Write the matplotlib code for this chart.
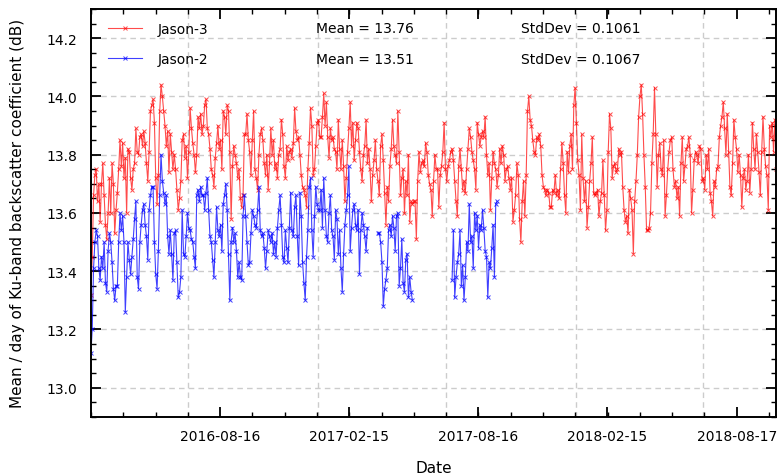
import numpy as np
import pandas as pd
import matplotlib
matplotlib.use("Agg")
import matplotlib.pyplot as plt
import matplotlib.dates as mdates

# daily mean Ku-band sigma0 (sampled roughly every other day)
start_date = "2016-02-15"
end_date = "2018-10-12"

jason3 = [
    13.32, 13.45, 13.66, 13.73, 13.75, 13.64, 13.70, 13.57, 13.70, 13.77,
    13.66, 13.56, 13.51, 13.60, 13.72, 13.60, 13.77, 13.70, 13.53, 13.61,
    13.67, 13.75, 13.85, 13.76, 13.84, 13.72, 13.79, 13.60, 13.82, 13.81,
    13.72, 13.68, 13.75, 13.77, 13.89, 13.81, 13.80, 13.86, 13.87, 13.83,
    13.88, 13.84, 13.77, 13.71, 13.81, 13.95, 13.97, 13.99, 13.91, 13.72,
    13.63, 13.73, 13.95, 14.04, 14.00, 13.95, 13.90, 13.83, 13.88, 13.74,
    13.87, 13.81, 13.75, 13.80, 13.75, 13.68, 13.61, 13.65, 13.71, 13.85,
    13.87, 13.79, 13.83, 13.72, 13.81, 13.96, 13.89, 13.84, 13.80, 13.74,
    13.80, 13.93, 13.89, 13.94, 13.87, 13.90,
    13.97, 13.99, 13.89, 13.87, 13.82, 13.75, 13.73, 13.69, 13.79, 13.84,
    13.90, 13.82, 13.85, 13.75, 13.95, 13.93, 13.87, 13.97, 13.95, 13.81,
    13.58, 13.76, 13.83, 13.80, 13.77, 13.72, 13.75, 13.65, 13.62, 13.66,
    13.87, 13.87, 13.94, 13.85, 13.81, 13.73, 13.85, 13.95, 13.75, 13.72,
    13.68, 13.80, 13.87, 13.89, 13.85, 13.77, 13.73, 13.80, 13.68, 13.77,
    13.89, 13.80, 13.85, 13.75, 13.77, 13.72, 13.80, 13.82, 13.92, 13.87,
    13.76, 13.72, 13.83, 13.78, 13.81, 13.82, 13.79, 13.84, 13.96, 13.88,
    13.85, 13.86, 13.80, 13.73, 13.69, 13.68, 13.66, 13.62, 13.75, 13.84,
    13.96, 13.90, 13.73, 13.75, 13.83, 13.91, 13.92, 13.86,
    13.86, 13.93, 14.01, 13.90, 13.98, 13.86, 13.79, 13.89, 13.85, 13.86,
    13.82, 13.81, 13.75, 13.92, 13.82, 13.75, 13.85, 13.76, 13.64, 13.72,
    13.81, 13.89, 13.98, 13.83, 13.91, 13.78, 13.85, 13.91, 13.89, 13.81,
    13.75, 13.71, 13.80, 13.83, 13.92, 13.77, 13.82, 13.75, 13.64, 13.73,
    13.78, 13.85, 13.75, 13.71, 13.66, 13.83, 13.87, 13.78, 13.67, 13.56,
    13.69, 13.64, 13.76, 13.82, 13.92, 13.83, 13.80, 13.77, 13.95, 13.81,
    13.66, 13.72, 13.75, 13.60, 13.71, 13.66, 13.80, 13.57, 13.64, 13.63,
    13.64, 13.64, 13.51, 13.71, 13.81, 13.74, 13.77, 13.78, 13.76, 13.84,
    13.81, 13.73, 13.70, 13.68, 13.59, 13.71, 13.80, 13.75,
    13.75, 13.62, 13.73, 13.76, 13.81, 13.91, 13.75, 13.71, 13.76, 13.78,
    13.81, 13.82, 13.78, 13.71, 13.64, 13.59, 13.76, 13.82, 13.75, 13.68,
    13.71, 13.67, 13.75, 13.82, 13.89, 13.86, 13.81, 13.78, 13.75, 13.68,
    13.91, 13.87, 13.83, 13.86, 13.88, 13.86, 13.93, 13.80, 13.73, 13.77,
    13.61, 13.72, 13.81, 13.77, 13.75, 13.69, 13.73, 13.82, 13.77, 13.83,
    13.80, 13.71, 13.75, 13.76, 13.72, 13.68, 13.72, 13.57, 13.61, 13.66,
    13.77, 13.73, 13.58, 13.50, 13.64, 13.71, 13.59, 13.73, 13.95, 14.00,
    13.92, 13.90, 13.85, 13.81, 13.80, 13.86, 13.85, 13.87, 13.83, 13.73,
    13.69, 13.68, 13.66, 13.68, 13.67, 13.62,
    13.62, 13.68, 13.67, 13.73, 13.66, 13.68, 13.65, 13.75, 13.84, 13.77,
    13.66, 13.60, 13.81, 13.74, 13.83, 13.87, 13.75, 13.97, 14.03, 13.91,
    13.78, 13.73, 13.61, 13.87, 13.72, 13.64, 13.71, 13.55, 13.62, 13.71,
    13.77, 13.86, 13.67, 13.66, 13.67, 13.68, 13.59, 13.64, 13.67, 13.78,
    13.66, 13.54, 13.61, 13.81, 13.94, 13.89, 13.72, 13.76, 13.77, 13.74,
    13.75, 13.82, 13.80, 13.81, 13.69, 13.61, 13.57, 13.59, 13.53, 13.68,
    13.65, 13.61, 13.46, 13.64, 13.71, 13.80, 13.93, 14.00, 14.04, 13.94,
    13.80, 13.69, 13.54, 13.54, 13.55, 13.60, 13.77, 13.87, 14.03, 13.87,
    13.69, 13.80, 13.84, 13.75, 13.73, 13.85, 13.59,
    13.66, 13.75, 13.81, 13.85, 13.86, 13.75, 13.69, 13.71, 13.65, 13.69,
    13.59, 13.77, 13.86, 13.71, 13.76, 13.82, 13.83, 13.86, 13.80, 13.60,
    13.68, 13.78, 13.81, 13.80, 13.77, 13.83, 13.82, 13.71, 13.72, 13.68,
    13.80, 13.75, 13.82, 13.67, 13.64, 13.59, 13.71, 13.69, 13.75, 13.76,
    13.86, 13.90, 13.93, 13.98, 13.89, 13.80, 13.94, 13.81, 13.69, 13.66,
    13.77, 13.92, 13.86, 13.82, 13.74, 13.80, 13.73, 13.62, 13.72, 13.75,
    13.68, 13.71, 13.80, 13.67, 13.75, 13.91, 13.82, 13.75, 13.87, 13.81,
    13.74, 13.66, 13.81, 13.93, 13.82, 13.76, 13.73, 13.61, 13.90, 13.86,
    13.91, 13.81, 13.92, 13.75,
]

# Jason-2 on the same day grid, None where there is no data
jason2 = [
    13.12, 13.20, 13.41, 13.50, 13.54, 13.52, 13.41, 13.37, 13.45, 13.41,
    13.50, 13.36, 13.33, 13.47, 13.53, 13.50, 13.43, 13.34, 13.30, 13.35,
    13.35, 13.50, 13.60, 13.54, 13.59, 13.50, 13.26, 13.38, 13.50, 13.44,
    13.39, 13.45, 13.51, 13.58, 13.64, 13.38, 13.34, 13.50, 13.56, 13.61,
    13.63, 13.56, 13.52, 13.44, 13.61, 13.66, 13.69, 13.69, 13.50, 13.39,
    13.34, 13.47, 13.66, 13.80, 13.71, 13.67, 13.63, 13.66, 13.52, 13.46,
    13.54, 13.46, 13.37, 13.53, 13.54, 13.43, 13.31, 13.33, 13.38, 13.61,
    13.46, 13.45, 13.52, 13.60, 13.55, 13.54, 13.51, 13.50, 13.45, 13.41,
    13.66, 13.68, 13.64, 13.69, 13.66, 13.66,
    13.61, 13.67, 13.72, 13.61, 13.52, 13.50, 13.44, 13.38, 13.50, 13.62,
    13.54, 13.52, 13.56, 13.47, 13.63, 13.66, 13.70, 13.61, 13.46, 13.30,
    13.50, 13.55, 13.50, 13.53, 13.47, 13.38, 13.43, 13.38, 13.37, 13.59,
    13.66, 13.59, 13.50, 13.42, 13.43, 13.53, 13.61, 13.59, 13.56, 13.55,
    13.61, 13.69, 13.54, 13.52, 13.53, 13.48, 13.41, 13.47, 13.54, 13.52,
    13.50, 13.53, 13.46, 13.50, 13.45, 13.55, 13.61, 13.66, 13.56, 13.45,
    13.43, 13.54, 13.48, 13.43, 13.55, 13.67, 13.54, 13.52, 13.62, 13.66,
    13.52, 13.42, 13.67, 13.59, 13.43, 13.36, 13.30, 13.45, 13.54, 13.69,
    13.72, 13.54, 13.45, 13.59, 13.69, 13.63, 13.61,
    13.61, 13.68, 13.55, 13.72, 13.61, 13.52, 13.50, 13.60, 13.66, 13.54,
    13.52, 13.44, 13.61, 13.58, 13.46, 13.54, 13.41, 13.33, 13.46, 13.56,
    13.61, 13.66, 13.76, 13.47, 13.55, 13.61, 13.63, 13.56, 13.54, 13.61,
    13.39, 13.54, 13.60, 13.56, 13.52, 13.47, 13.55,
] + [None] * 7 + [
    13.53, 13.53, 13.50, 13.43, 13.28, 13.34, 13.37, 13.41, 13.54, 13.56,
    13.52, 13.59, 13.55, 13.47, 13.59, 13.60, 13.35, 13.41, 13.51, 13.36,
    13.33, 13.44, 13.46, 13.31, 13.38, 13.33, 13.30,
] + [None] * 29 + [
    13.37, 13.54, 13.31, 13.38, 13.43, 13.46, 13.54, 13.35, 13.42, 13.30,
    13.38, 13.50, 13.47, 13.63, 13.50, 13.52, 13.41, 13.60, 13.54, 13.59,
    13.48, 13.56, 13.54, 13.61, 13.55, 13.47, 13.45, 13.31, 13.43, 13.41,
    13.48, 13.56, 13.38, 13.63, 13.64,
]

stats = {"Jason-3": (13.76, 0.1061), "Jason-2": (13.51, 0.1067)}

tick_dates = ["2016-08-16", "2017-02-15", "2017-08-16", "2018-02-15", "2018-08-17"]

t0 = pd.Timestamp(start_date)
t1 = pd.Timestamp(end_date)
dates = pd.to_datetime(np.linspace(t0.value, t1.value, len(jason3)))
j3 = np.array(jason3, dtype=float)
j2 = np.array(jason2, dtype=float)

fig = plt.figure(figsize=(7.77, 4.77), dpi=100)
ax = fig.add_axes([0.117, 0.124, 0.882, 0.855])

ax.plot(dates, j3, color="red", lw=0.8, marker="x", ms=3, mew=0.7,
        alpha=0.7, label="Jason-3")
ax.plot(dates[:len(j2)], j2, color="blue", lw=0.8, marker="x", ms=3,
        mew=0.7, alpha=0.75, label="Jason-2")

ax.set_xlim(t0, t1)
ax.set_ylim(12.9, 14.3)

# ticks
major = mdates.date2num(pd.to_datetime(tick_dates))
step = np.diff(major).mean() / 4
ax.set_xticks(major)
ax.set_xticks(np.arange(major[0] - 4 * step, mdates.date2num(t1), step), minor=True)
ax.xaxis.set_major_formatter(mdates.DateFormatter("%Y-%m-%d"))
ax.set_yticks(np.arange(13.0, 14.21, 0.2))
ax.set_yticks(np.arange(12.9, 14.31, 0.05), minor=True)
ax.tick_params(which="both", direction="in", top=True, right=True, labelsize=10)
ax.tick_params(which="major", length=7, width=1.3)
ax.tick_params(which="minor", length=3.5, width=1)
ax.tick_params(axis="y", pad=10)
ax.tick_params(axis="x", pad=9)
for s in ax.spines.values():
    s.set_linewidth(1.4)

# grid
ax.yaxis.grid(True, ls=(0, (4, 3)), color="#cccccc", lw=1)
for d in pd.date_range("2016-07-01", "2018-07-01", freq="6MS"):
    ax.axvline(d, ls=(0, (4, 3)), color="#cccccc", lw=1, zorder=0)
ax.set_axisbelow(True)

ax.set_xlabel("Date", fontsize=11)
ax.set_ylabel("Mean / day of Ku-band backscatter coefficient (dB)", fontsize=11)
ax.xaxis.set_label_coords(0.5, -0.105)
ax.yaxis.set_label_coords(-0.096, 0.5)

ax.legend(loc="upper left", bbox_to_anchor=(0.006, 1.0), frameon=False,
          fontsize=10, handlelength=2.5, handletextpad=1.1,
          labelspacing=1.2, numpoints=1)

rows = [0.953, 0.877]
for (name, (m, sd)), y in zip(stats.items(), rows):
    ax.text(0.328, y, "Mean = %.2f" % m, transform=ax.transAxes,
            fontsize=10, va="center")
    ax.text(0.628, y, "StdDev = %.4f" % sd, transform=ax.transAxes,
            fontsize=10, va="center")

fig.savefig("out.png", dpi=100)
